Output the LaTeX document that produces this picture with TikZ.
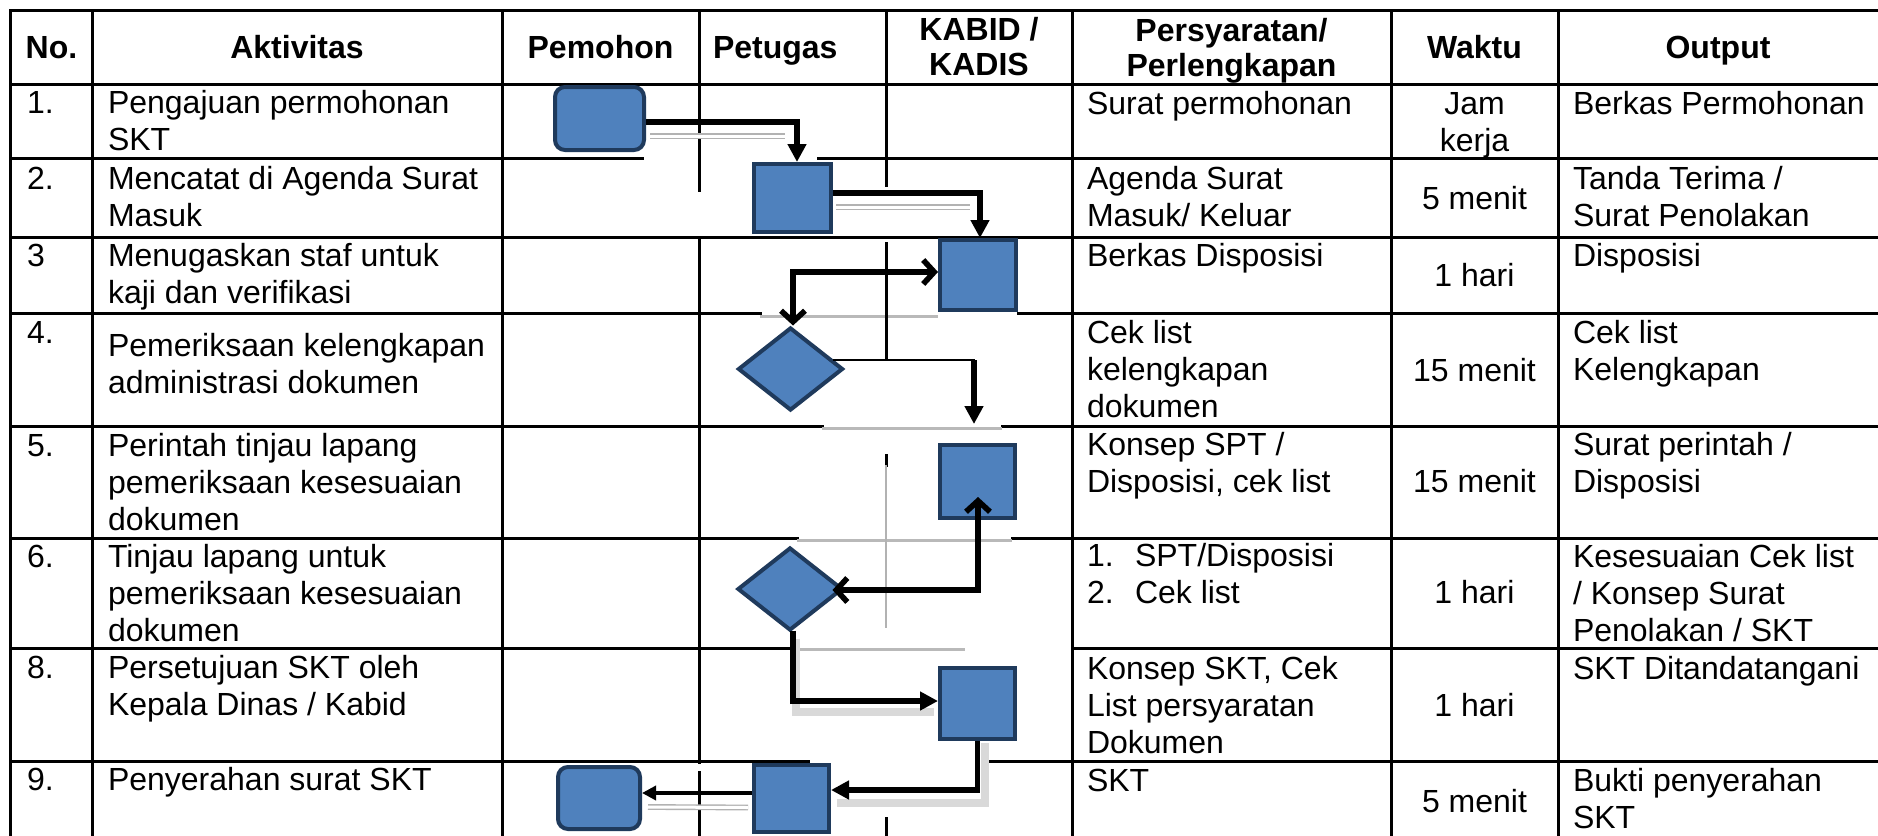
\documentclass[tikz,border=0pt]{standalone}
\usepackage{fontspec}
\setmainfont{Liberation Sans}
\usetikzlibrary{arrows.meta,shapes.geometric,calc}
\definecolor{boxfill}{HTML}{4F81BD}
\definecolor{boxline}{HTML}{1F3A5C}
\newcommand{\lcell}[1]{\begin{tabular}[t]{@{}l@{}}#1\end{tabular}}
\newcommand{\ccell}[1]{\begin{tabular}[t]{@{}c@{}}#1\end{tabular}}
\begin{document}
\begin{tikzpicture}[x=0.5pt,y=-0.5pt,
  txt/.style={font=\fontsize{16}{18.5}\selectfont, inner sep=0pt, outer sep=0pt},
  lt/.style={txt, anchor=base west},
  ct/.style={txt, anchor=base},
  hd/.style={txt, anchor=base, font=\fontsize{16}{17.5}\selectfont\bfseries},
  gridline/.style={line width=1.5pt, black, line cap=rect},
  grayline/.style={line width=1.5pt, gray!55},
  proc/.style={draw=boxline, fill=boxfill, line width=2pt, rectangle, inner sep=0pt},
  term/.style={proc, rounded corners=5pt},
  dec/.style={draw=boxline, fill=boxfill, line width=2pt, diamond, inner sep=0pt},
  flow/.style={line width=2.8pt, -{Triangle[length=9pt,width=9pt]}},
  twoway/.style={line width=2.8pt, {Straight Barb[length=5.5pt,width=12pt]}-{Straight Barb[length=5.5pt,width=12pt]}},
  shade/.style={draw=gray!60, double=white, double distance=1.5pt, line width=0.7pt},
  softshade/.style={draw=gray!30, line width=4pt}
]
\useasboundingbox (0,0) rectangle (1878,835);
\fill[white] (0,0) rectangle (1878,835);

% ---------- grid ----------
\foreach \yy in {10,84,237} \draw[gridline] (10.5,\yy) -- (1878,\yy);
\draw[gridline] (10.5,158) -- (642,158) (818,158) -- (1878,158);
\draw[gridline] (10.5,313) -- (760,313) (1018,313) -- (1878,313);
\draw[grayline] (760,316) -- (938,316);
\draw[gridline] (10.5,426) -- (822,426) (1002,426) -- (1878,426);
\draw[grayline] (822,428) -- (1002,428);
\draw[gridline] (10.5,538) -- (797,538) (1012,538) -- (1878,538);
\draw[grayline] (797,540) -- (1012,540);
\draw[gridline] (10.5,648) -- (793,648) (1072,648) -- (1878,648);
\draw[grayline] (796,649) -- (965,649);
\draw[gridline] (10.5,761) -- (808,761) (985,761) -- (1878,761);
\foreach \xx in {10.5,92,502,1072,1391,1558} \draw[gridline] (\xx,10) -- (\xx,835);
\draw[gridline] (699,10) -- (699,190) (699,237) -- (699,762) (699,772) -- (699,835);
\draw[gridline] (886,10) -- (886,185) (886,243) -- (886,359) (886,455) -- (886,465) (886,818) -- (886,835);
\draw[gray!60, line width=1pt] (886,465) -- (886,628);

% ---------- header ----------
\node[hd] (hNo) at (51.5,58) {No.};
\node[hd] (hAkt) at (297,58) {Aktivitas};
\node[hd] (hPem) at (600.5,58) {Pemohon};
\node[hd, anchor=base west] (hPet) at (713,58) {Petugas};
\node[hd] (hKab) at (979,40) {\ccell{KABID /\\KADIS}};
\node[hd] (hPer) at (1231.5,41) {\ccell{Persyaratan/\\Perlengkapan}};
\node[hd] (hWak) at (1474.5,58) {Waktu};
\node[hd] (hOut) at (1718,58) {Output};

% ---------- No. ----------
\node[lt] (n1) at (27,113) {1.};
\node[lt] (n2) at (27,189) {2.};
\node[lt] (n3) at (27,266) {3};
\node[lt] (n4) at (27,343) {4.};
\node[lt] (n5) at (27,456) {5.};
\node[lt] (n6) at (27,567) {6.};
\node[lt] (n8) at (27,678) {8.};
\node[lt] (n9) at (27,790) {9.};

% ---------- Aktivitas ----------
\node[lt] (a1) at (108,113) {\lcell{Pengajuan permohonan\\SKT}};
\node[lt] (a2) at (108,189) {\lcell{Mencatat di Agenda Surat\\Masuk}};
\node[lt] (a3) at (108,266) {\lcell{Menugaskan staf untuk\\kaji dan verifikasi}};
\node[lt] (a4) at (108,356) {\lcell{Pemeriksaan kelengkapan\\administrasi dokumen}};
\node[lt] (a5) at (108,456) {\lcell{Perintah tinjau lapang\\pemeriksaan kesesuaian\\dokumen}};
\node[lt] (a6) at (108,567) {\lcell{Tinjau lapang untuk\\pemeriksaan kesesuaian\\dokumen}};
\node[lt] (a8) at (108,678) {\lcell{Persetujuan SKT oleh\\Kepala Dinas / Kabid}};
\node[lt] (a9) at (108,790) {Penyerahan surat SKT};

% ---------- Persyaratan ----------
\node[lt] (p1) at (1087,114) {Surat permohonan};
\node[lt] (p2) at (1087,189) {\lcell{Agenda Surat\\Masuk/ Keluar}};
\node[lt] (p3) at (1087,266) {Berkas Disposisi};
\node[lt] (p4) at (1087,343) {\lcell{Cek list\\kelengkapan\\dokumen}};
\node[lt] (p5) at (1087,455) {\lcell{Konsep SPT /\\Disposisi, cek list}};
\node[lt] (p6n) at (1087,566) {\lcell{1.\\2.}};
\node[lt] (p6) at (1135,566) {\lcell{SPT/Disposisi\\Cek list}};
\node[lt] (p8) at (1087,679) {\lcell{Konsep SKT, Cek\\List persyaratan\\Dokumen}};
\node[lt] (p9) at (1087,791) {SKT};

% ---------- Waktu ----------
\node[ct] (w1) at (1474.5,114) {\ccell{Jam\\kerja}};
\node[ct] (w2) at (1474.5,209) {5 menit};
\node[ct] (w3) at (1474.5,286) {1 hari};
\node[ct] (w4) at (1474.5,381) {15 menit};
\node[ct] (w5) at (1474.5,492) {15 menit};
\node[ct] (w6) at (1474.5,603) {1 hari};
\node[ct] (w8) at (1474.5,716) {1 hari};
\node[ct] (w9) at (1474.5,812) {5 menit};

% ---------- Output ----------
\node[lt] (o1) at (1573,114) {Berkas Permohonan};
\node[lt] (o2) at (1573,189) {\lcell{Tanda Terima /\\Surat Penolakan}};
\node[lt] (o3) at (1573,266) {Disposisi};
\node[lt] (o4) at (1573,343) {\lcell{Cek list\\Kelengkapan}};
\node[lt] (o5) at (1573,455) {\lcell{Surat perintah /\\Disposisi}};
\node[lt] (o6) at (1573,567) {\lcell{Kesesuaian Cek list\\/ Konsep Surat\\Penolakan / SKT}};
\node[lt] (o8) at (1573,679) {SKT Ditandatangani};
\node[lt] (o9) at (1573,791) {\lcell{Bukti penyerahan\\SKT}};

% ---------- flow shapes ----------
\node[term, minimum width=44.5pt, minimum height=31.5pt] (R1) at (599.5,118.5) {};
\node[proc, minimum width=38.5pt, minimum height=34pt] (B2) at (792.5,198) {};
\node[proc, minimum width=38pt, minimum height=35pt] (B3) at (978,275) {};
\node[dec, minimum width=52.5pt, minimum height=41.5pt] (D4) at (790.5,369) {};
\node[proc, minimum width=37.5pt, minimum height=36.5pt] (B5) at (977.5,481.5) {};
\node[dec, minimum width=52.5pt, minimum height=41.5pt] (D6) at (790,589) {};
\node[proc, minimum width=37.5pt, minimum height=35.5pt] (B8) at (977.5,703.5) {};
\node[proc, minimum width=37.5pt, minimum height=33.5pt] (B9) at (791.5,798.5) {};
\node[term, minimum width=41pt, minimum height=31pt] (R9) at (599,798) {};

% ---------- connector shadows ----------
\draw[shade] ($(R1.east)+(4,17.5)$) -- ($(B2.north)+(-8,-26)$);
\draw[shade] ($(B2.east)+(3,9)$) -- ($(B3.north)+(-8,-31)$);
\draw[softshade] ($(D6.south)+(6,6)$) |- ($(B8.west)+(-4,8)$);
\draw[softshade] ($(B8.south)+(7,2)$) |- ($(B9.east)+(6,4)$);
\draw[shade] ($(B9.west)+(-4,9)$) -- ($(R9.east)+(6,9)$);

% ---------- connectors ----------
\draw[flow] ($(R1.east)+(0,3.5)$) -| ($(B2.north)+(4.5,0)$);
\draw[flow] ($(B2.east)+(0,-5)$) -| ($(B3.north)+(2,0)$);
\draw[twoway] ($(B3.west)+(0,-3)$) -| ($(D4.north)+(2.5,0)$);
\coordinate (c4a) at ($(D4.east)+(129,-9)$);
\coordinate (c4b) at ($(c4a)+(0,64)$);
\draw[line width=1.4pt] ($(D4.east)+(-12,-9)$) -- ($(c4a)+(1.4,0)$);
\draw[flow] (c4a) -- (c4b);
\draw[twoway] ($(D6.east)+(-12,1)$) -| ($(B5.south)+(0.5,-23)$);
\draw[flow] ($(D6.south)+(3,-2)$) |- ($(B8.west)+(0,-2.5)$);
\draw[flow] (B8.south) |- ($(B9.east)+(0,-8.5)$);
\draw[line width=1.8pt, -{Triangle[length=7pt,width=7pt]}] ($(B9.west)+(0,-5.5)$) -- ($(R9.east)+(0,-5)$);
\end{tikzpicture}
\end{document}
